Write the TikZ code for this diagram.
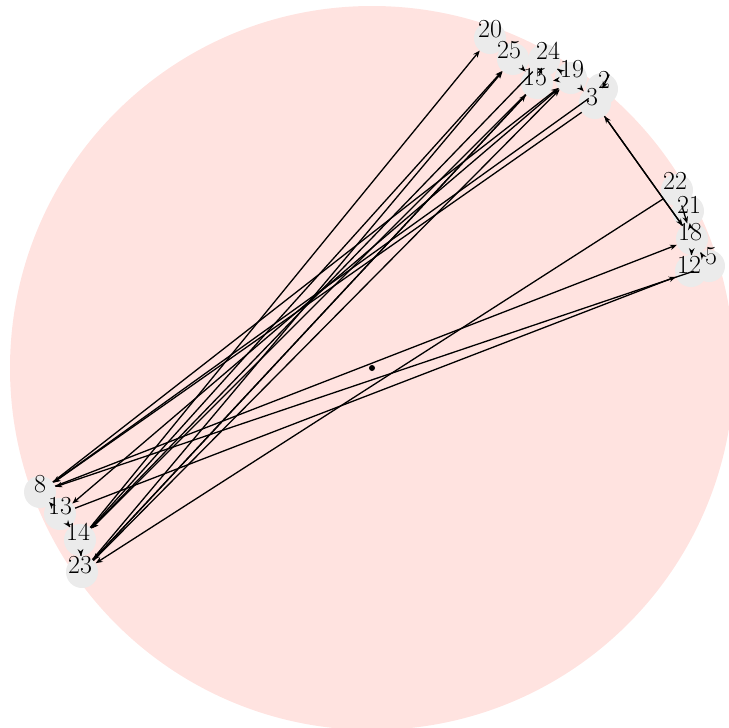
\documentclass[tikz,border=0pt]{standalone}
\usepackage{fontspec}
\usetikzlibrary{arrows.meta}
\definecolor{rosebg}{HTML}{FFE3E0}
\definecolor{diskgray}{HTML}{EBEBEB}
\begin{document}
\begin{tikzpicture}[x=1pt,y=-1pt,
  v/.style={circle,fill=diskgray,minimum size=32pt,inner sep=0pt},
  lab/.style={font=\fontsize{26}{28}\selectfont,inner sep=0pt},
  e/.style={-{Stealth[length=7pt,width=5.5pt]},line width=1.3pt}]
\useasboundingbox (0,0) rectangle (729,728);
\clip (0,0) rectangle (729,728);
\fill[rosebg] (372,368) circle[radius=362pt];
% disks
\node[v] (n20) at (490,38) {};
\node[v] (n25) at (513,59) {};
\node[v] (n24) at (544,60) {};
\node[v] (n15) at (537,83) {};
\node[v] (n19) at (571,78) {};
\node[v] (n2) at (602,89) {};
\node[v] (n3) at (595,103) {};
\node[v] (n22) at (677,190) {};
\node[v] (n21) at (688,211) {};
\node[v] (n18) at (692,239) {};
\node[v] (n12) at (691,271) {};
\node[v] (n5) at (709,266) {};
\node[v] (n8) at (40,492) {};
\node[v] (n13) at (60,514) {};
\node[v] (n14) at (80,540) {};
\node[v] (n23) at (82,572) {};
\node[circle,fill=black,inner sep=0pt,minimum size=6pt] (c) at (372,368) {};
% edges
\draw[e] (n14) -- (n20);
\draw[e] (n23) -- (n25);
\draw[e] (n14) -- (n25);
\draw[e] (n15) -- (n14);
\draw[e] (n24) -- (n14);
\draw[e] (n15) -- (n23);
\draw[e] (n23) -- (n15);
\draw[e] (n23) -- (n19);
\draw[e] (n19) -- (n13);
\draw[e] (n3) -- (n8);
\draw[e] (n2) -- (n8);
\draw[e] (n8) -- (n19);
\draw[e] (n8) -- (n18);
\draw[e] (n13) -- (n12);
\draw[e] (n5) -- (n8);
\draw[e] (n22) -- (n23);
\draw[e] (n3) -- (n18);
\draw[e] (n18) -- (n3);
\draw[e] (n21) -- (n18);
\draw[e] (n22) -- (n18);
\draw[e] (n18) -- (n5);
\draw[e] (n12) -- (n18);
\draw[e] (n25) -- (n15);
\draw[e] (n24) -- (n15);
\draw[e] (n19) -- (n15);
\draw[e] (n19) -- (n24);
\draw[e] (n19) -- (n3);
\draw[e] (n2) -- (n3);
\draw[e] (n8) -- (n13);
\draw[e] (n13) -- (n14);
\draw[e] (n23) -- (n14);
% labels
\node[lab] (t20) at (490,29) {20};
\node[lab] (t25) at (509,50) {25};
\node[lab] (t24) at (548,51) {24};
\node[lab] (t15) at (535,77) {15};
\node[lab] (t19) at (572,69) {19};
\node[lab] (t2) at (604,80) {2};
\node[lab] (t3) at (592,97) {3};
\node[lab] (t22) at (675,181) {22};
\node[lab] (t21) at (689,205) {21};
\node[lab] (t18) at (690,232) {18};
\node[lab] (t12) at (689,265) {12};
\node[lab] (t5) at (711,256) {5};
\node[lab] (t8) at (40,484) {8};
\node[lab] (t13) at (60,506) {13};
\node[lab] (t14) at (78,532) {14};
\node[lab] (t23) at (80,565) {23};
\end{tikzpicture}
\end{document}
